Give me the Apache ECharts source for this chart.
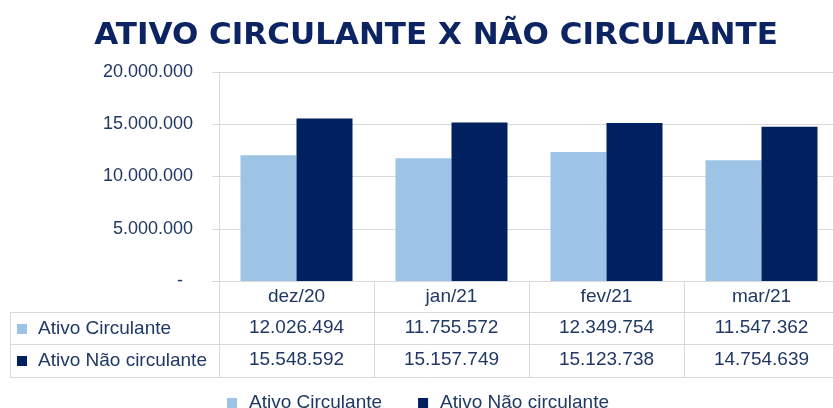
<!DOCTYPE html>
<html>
<head>
<meta charset="utf-8">
<script src="https://cdn.jsdelivr.net/npm/echarts@6/dist/echarts.min.js"></script>
<style>html,body{margin:0;padding:0;background:#fff;overflow:hidden;width:833px;height:408px}#c{width:845px;height:408px}</style>
</head>
<body>
<div id="c"></div>
<script>
const categories = ['dez/20', 'jan/21', 'fev/21', 'mar/21'];
const ativoCirculante = [12026494, 11755572, 12349754, 11547362];
const ativoNaoCirculante = [15548592, 15157749, 15123738, 14754639];
const seriesNames = ['Ativo Circulante', 'Ativo Não circulante'];
const yTicks = { min: 0, max: 20000000, interval: 5000000 };

const TXT = '#203864';
const GRID = '#d9d9d9';
const FONT = 'Liberation Sans';
function fmt(n) { return String(n).replace(/\B(?=(\d{3})+(?!\d))/g, '.'); }

const chart = echarts.init(document.getElementById('c'), null, { renderer: 'canvas' });
chart.setOption({
  animation: false,
  backgroundColor: '#fff',
  title: {
    text: 'ATIVO CIRCULANTE X NÃO CIRCULANTE',
    left: 431, top: 15, textAlign: 'center',
    textStyle: { fontFamily: 'DejaVu Sans', fontWeight: 'bold', fontSize: 31, color: '#0c2461' }
  },
  grid: { left: 219, right: 6, top: 72, bottom: 127, containLabel: false },
  legend: [
    {
      data: seriesNames, left: 227, top: 393, padding: 0, itemWidth: 10, itemHeight: 10, itemGap: 36,
      icon: 'rect', selectedMode: false,
      textStyle: { fontFamily: FONT, fontSize: 19, color: TXT, lineHeight: 20, padding: [0, 0, 0, 7] }
    },
    {
      data: seriesNames, left: 17, top: 313, padding: 0, orient: 'vertical', itemWidth: 10, itemHeight: 10, itemGap: 0,
      icon: 'rect', selectedMode: false,
      textStyle: { fontFamily: FONT, fontSize: 19, color: TXT, lineHeight: 32, padding: [0, 0, 0, 6] }
    }
  ],
  xAxis: {
    type: 'category', data: categories,
    axisLine: { show: true, lineStyle: { color: GRID, width: 1 } },
    axisTick: { show: true, length: 96, interval: 0, lineStyle: { color: GRID, width: 1 } },
    axisLabel: {
      interval: 0, margin: 0, verticalAlign: 'top',
      formatter: function (v, i) {
        return '{c|' + v + '}\n{v|' + fmt(ativoCirculante[i]) + '}\n{v|' + fmt(ativoNaoCirculante[i]) + '}';
      },
      rich: {
        c: { fontFamily: FONT, fontSize: 19, color: TXT, lineHeight: 31, align: 'center' },
        v: { fontFamily: FONT, fontSize: 19, color: TXT, lineHeight: 32, align: 'center' }
      }
    }
  },
  yAxis: {
    type: 'value', min: yTicks.min, max: yTicks.max, interval: yTicks.interval,
    axisLine: { show: true, lineStyle: { color: GRID, width: 1 } },
    axisTick: { show: true, length: 7, lineStyle: { color: GRID, width: 1 } },
    splitLine: { show: true, lineStyle: { color: GRID, width: 1 } },
    axisLabel: {
      margin: 26, fontFamily: FONT, fontSize: 18, color: TXT,
      formatter: function (v) { return v === 0 ? '-  ' : fmt(v); }
    }
  },
  graphic: [
    { type: 'line', shape: { x1: 10, y1: 312.5, x2: 845, y2: 312.5 }, style: { stroke: GRID, lineWidth: 1 }, silent: true },
    { type: 'line', shape: { x1: 10, y1: 344.5, x2: 845, y2: 344.5 }, style: { stroke: GRID, lineWidth: 1 }, silent: true },
    { type: 'line', shape: { x1: 10, y1: 377.5, x2: 845, y2: 377.5 }, style: { stroke: GRID, lineWidth: 1 }, silent: true },
    { type: 'line', shape: { x1: 10.5, y1: 312, x2: 10.5, y2: 378 }, style: { stroke: GRID, lineWidth: 1 }, silent: true }
  ],
  series: [
    {
      name: seriesNames[0], type: 'bar', data: ativoCirculante, barWidth: 56, barGap: '0%',
      itemStyle: { color: '#9dc3e6' }
    },
    {
      name: seriesNames[1], type: 'bar', data: ativoNaoCirculante, barWidth: 56,
      itemStyle: { color: '#002060' }
    }
  ]
});
</script>
</body>
</html>
